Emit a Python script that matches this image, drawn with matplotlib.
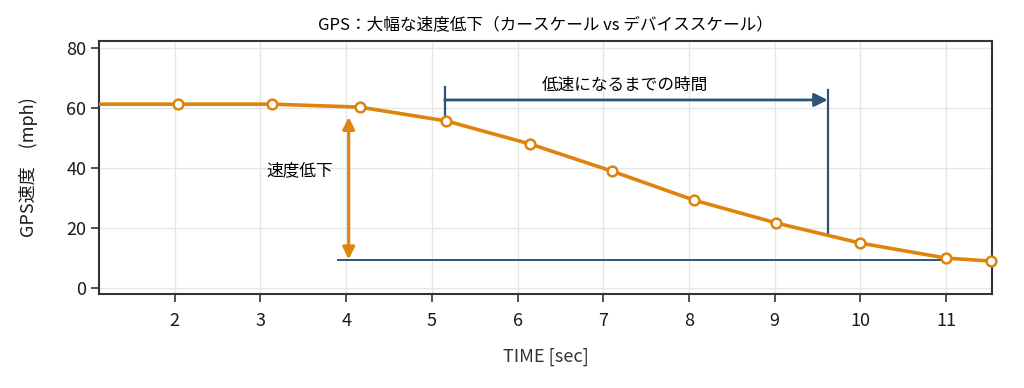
import matplotlib.pyplot as plt

plt.rcParams['font.family'] = ['Noto Sans CJK JP', 'DejaVu Sans']

# data
time_sec = [1.0, 2.04, 3.14, 4.16, 5.17, 6.15, 7.10, 8.06, 9.02, 10.0, 11.0, 11.53]
gps_speed = [61.3, 61.3, 61.3, 60.3, 55.7, 48.0, 39.0, 29.3, 21.7, 15.0, 10.0, 9.0]
x_ticks = [2, 3, 4, 5, 6, 7, 8, 9, 10, 11]
y_ticks = [0, 20, 40, 60, 80]

# annotation positions
low_level = 9.3
drop_x, drop_top, drop_bottom = 4.03, 57.0, 9.6
span_start, span_end, span_y = 5.15, 9.62, 62.7

orange = '#DE840C'
blue = '#2E5478'
spine = '#333333'
xmin, xmax = 1.12, 11.54

fig = plt.figure(figsize=(10.24, 3.88), dpi=100)
ax = fig.add_axes([0.097, 0.242, 0.872, 0.652])

ax.plot(time_sec, gps_speed, color=orange, lw=2.6, zorder=4)
vis = [(t, v) for t, v in zip(time_sec, gps_speed) if xmin <= t <= xmax]
ax.plot([p[0] for p in vis], [p[1] for p in vis], ls='none', marker='o', ms=7,
        mfc='white', mec=orange, mew=1.8, zorder=5, clip_on=False)

# horizontal reference line at low speed
ax.plot([3.9, 11.0], [low_level, low_level], color=blue, lw=1.4, zorder=3)

# speed drop double arrow
ax.annotate('', xy=(drop_x, drop_bottom), xytext=(drop_x, drop_top),
            arrowprops=dict(arrowstyle='<|-|>', color=orange, lw=2.2,
                            mutation_scale=18, shrinkA=0, shrinkB=0))
ax.text(3.46, 39, '速度低下', fontsize=12, ha='center', va='center')

# time-to-slow span
ax.plot([span_start, span_start], [56.7, 67.0], color=blue, lw=1.6)
ax.plot([span_end, span_end], [18.3, 66.0], color=blue, lw=1.6)
ax.annotate('', xy=(span_end, span_y), xytext=(span_start, span_y),
            arrowprops=dict(arrowstyle='-|>', color=blue, lw=2.0,
                            mutation_scale=20, shrinkA=0, shrinkB=0))
ax.text(7.25, 67.6, '低速になるまでの時間', fontsize=12, ha='center', va='center')

ax.set_xlim(xmin, xmax)
ax.set_ylim(-2, 82.3)
ax.set_xticks(x_ticks)
ax.set_yticks(y_ticks)
ax.grid(True, color='#E6E6E6', lw=1.0)
ax.set_axisbelow(True)
for s in ax.spines.values():
    s.set_color(spine)
    s.set_linewidth(1.5)
ax.tick_params(axis='both', colors=spine, labelcolor='#1A1A1A', labelsize=13,
               length=6, width=1.2)
ax.tick_params(axis='x', pad=7)

ax.set_title('GPS：大幅な速度低下（カースケール vs デバイススケール）',
             fontsize=12, pad=8)
ax.set_xlabel('TIME [sec]', fontsize=13, labelpad=13, color='#333333')
ax.set_ylabel('GPS速度\u3000(mph)', fontsize=13, labelpad=20, color='#1A1A1A')

fig.savefig('out.png', dpi=100)
